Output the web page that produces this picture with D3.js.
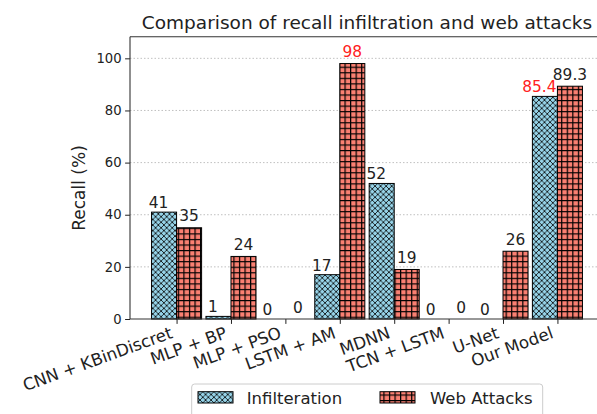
<!DOCTYPE html>
<html>
<head>
<meta charset="utf-8">
<script src="https://cdn.jsdelivr.net/npm/d3@7"></script>
<style>
  html, body { margin: 0; padding: 0; background: #fff; }
  svg { display: block; font-family: "DejaVu Sans", sans-serif; }
</style>
</head>
<body>
<script>
const categories = ["CNN + KBinDiscret", "MLP + BP", "MLP + PSO", "LSTM + AM", "MDNN", "TCN + LSTM", "U-Net", "Our Model"];
const infilteration = [41, 1, 0, 17, 52, 0, 0, 85.4];
const webAttacks = [35, 24, 0, 98, 19, 0, 26, 89.3];
const yTicks = [0, 20, 40, 60, 80, 100];
const seriesNames = ["Infilteration", "Web Attacks"];
const highlight = { inf: [7], web: [3] };

const W = 597, H = 414;
const svg = d3.select("body").append("svg").attr("width", W).attr("height", H);

const plotLeft = 130, plotRight = 604, plotTop = 36.7, plotBottom = 319;
const x = d3.scaleLinear().domain([-0.856, 7.856]).range([plotLeft, plotRight]);
const y = d3.scaleLinear().domain([0, 108.3]).range([plotBottom, plotTop]);
const barW = 0.46;

// patterns
const defs = svg.append("defs");
const s = 5.556;
const pBlue = defs.append("pattern").attr("id", "hx").attr("patternUnits", "userSpaceOnUse")
  .attr("width", s).attr("height", s);
pBlue.append("rect").attr("width", s).attr("height", s).attr("fill", "#96D3E8");
pBlue.append("path").attr("d", `M-1,-1L${s+1},${s+1}M-1,${s+1}L${s+1},-1`)
  .attr("stroke", "#000").attr("stroke-width", 0.8);
const pRed = defs.append("pattern").attr("id", "hp").attr("patternUnits", "userSpaceOnUse")
  .attr("width", s).attr("height", s);
pRed.append("rect").attr("width", s).attr("height", s).attr("fill", "#FA8072");
pRed.append("path").attr("d", `M0,0.6H${s}M0.6,0V${s}`)
  .attr("stroke", "#000").attr("stroke-width", 1.2);

// grid
svg.append("g").selectAll("line").data(yTicks.filter(d => d > 0)).join("line")
  .attr("x1", plotLeft).attr("x2", plotRight)
  .attr("y1", d => y(d)).attr("y2", d => y(d))
  .attr("stroke", "#b0b0b0").attr("stroke-width", 0.8).attr("stroke-dasharray", "1.5,2");

// bars
const gBars = svg.append("g");
gBars.selectAll("rect.inf").data(infilteration).join("rect").attr("class", "inf")
  .attr("x", (d, i) => x(i - barW)).attr("width", (d, i) => x(i) - x(i - barW))
  .attr("y", d => y(d)).attr("height", d => y(0) - y(d))
  .attr("fill", "url(#hx)").attr("stroke", d => d > 0 ? "#000" : "none").attr("stroke-width", 1);
gBars.selectAll("rect.web").data(webAttacks).join("rect").attr("class", "web")
  .attr("x", (d, i) => x(i)).attr("width", (d, i) => x(i + barW) - x(i))
  .attr("y", d => y(d)).attr("height", d => y(0) - y(d))
  .attr("fill", "url(#hp)").attr("stroke", d => d > 0 ? "#000" : "none").attr("stroke-width", 1);

// value labels
const fmt = v => String(v);
svg.append("g").selectAll("text").data(infilteration).join("text")
  .attr("x", (d, i) => x(i - barW / 2) - 5.5).attr("y", d => y(d) - 4)
  .attr("text-anchor", "middle").attr("font-size", 15.4)
  .attr("fill", (d, i) => highlight.inf.includes(i) ? "#ff2020" : "#222")
  .text(fmt);
svg.append("g").selectAll("text").data(webAttacks).join("text")
  .attr("x", (d, i) => x(i + barW / 2)).attr("y", d => y(d) - 6.5)
  .attr("text-anchor", "middle").attr("font-size", 15.4)
  .attr("fill", (d, i) => highlight.web.includes(i) ? "#ff2020" : "#222")
  .text(fmt);

// axes
const yAxis = d3.axisLeft(y).tickValues(yTicks).tickSize(4.9).tickPadding(3.5);
const gy = svg.append("g").attr("transform", `translate(${plotLeft},0)`).call(yAxis);
gy.select(".domain").remove();
gy.selectAll("line").attr("stroke", "#222");
gy.selectAll("text").attr("font-size", 13.2).attr("fill", "#222").attr("font-family", "DejaVu Sans");

const xAxis = d3.axisBottom(x).tickValues(d3.range(categories.length)).tickSize(4.9).tickFormat("");
const gx = svg.append("g").attr("transform", `translate(0,${plotBottom})`).call(xAxis);
gx.select(".domain").remove();
gx.selectAll("line").attr("stroke", "#222");

// x tick labels rotated
svg.append("g").selectAll("text").data(categories).join("text")
  .attr("transform", (d, i) => `translate(${x(i) - 3},${plotBottom + 18.5}) rotate(-20)`)
  .attr("text-anchor", "end").attr("font-size", 16.7).attr("fill", "#222")
  .text(d => d);

// spines
const sp = svg.append("g").attr("stroke", "#333").attr("stroke-width", 1.1).attr("fill", "none");
sp.append("line").attr("x1", plotLeft).attr("x2", plotLeft).attr("y1", plotTop).attr("y2", plotBottom);
sp.append("line").attr("x1", plotLeft).attr("x2", plotRight).attr("y1", plotTop).attr("y2", plotTop);
sp.append("line").attr("x1", plotLeft).attr("x2", plotRight).attr("y1", plotBottom).attr("y2", plotBottom);
sp.append("line").attr("x1", plotRight).attr("x2", plotRight).attr("y1", plotTop).attr("y2", plotBottom);

// title
svg.append("text").attr("x", (plotLeft + plotRight) / 2).attr("y", 29)
  .attr("text-anchor", "middle").attr("font-size", 18.5).attr("fill", "#222")
  .text("Comparison of recall infiltration and web attacks");

// y label
svg.append("text").attr("transform", `translate(85,188) rotate(-90)`)
  .attr("text-anchor", "middle").attr("font-size", 17).attr("fill", "#222")
  .text("Recall (%)");

// legend
const lg = svg.append("g");
lg.append("rect").attr("x", 191.7).attr("y", 384).attr("width", 351).attr("height", 34)
  .attr("rx", 3).attr("fill", "#fff").attr("stroke", "#ccc").attr("stroke-width", 1);
const legItems = [
  { name: seriesNames[0], fill: "url(#hx)", px: 198, tx: 246.7 },
  { name: seriesNames[1], fill: "url(#hp)", px: 380, tx: 430 }
];
legItems.forEach(it => {
  lg.append("rect").attr("x", it.px).attr("y", 391.7).attr("width", 35).attr("height", 11.3)
    .attr("fill", it.fill).attr("stroke", "#000").attr("stroke-width", 1);
  lg.append("text").attr("x", it.tx).attr("y", 403.5).attr("font-size", 16.5).attr("fill", "#222")
    .text(it.name);
});
</script>
</body>
</html>
